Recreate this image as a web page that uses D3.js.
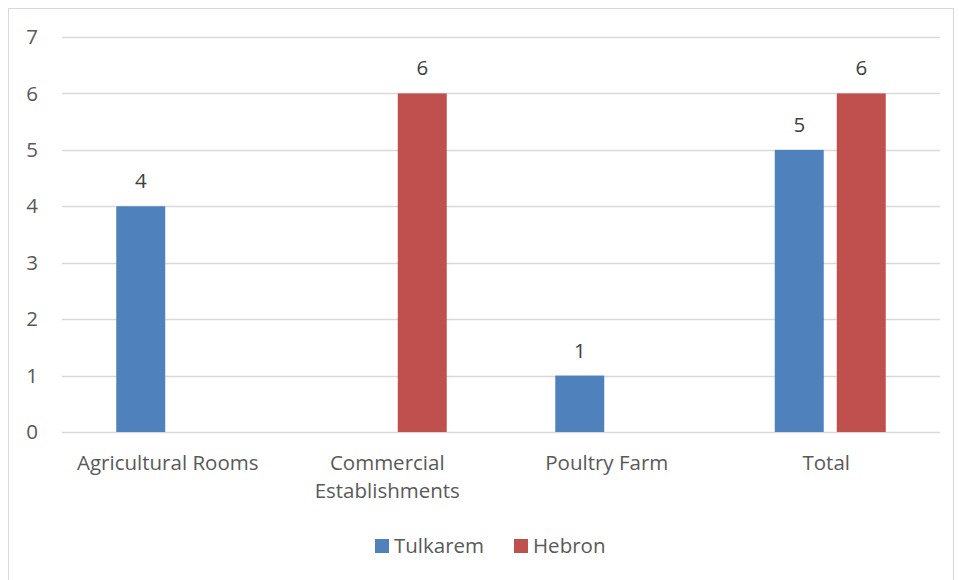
<!DOCTYPE html>
<html>
<head>
<meta charset="utf-8">
<script src="https://cdn.jsdelivr.net/npm/d3@7"></script>
<style>
  body { margin: 0; background: #fff; }
  text { font-family: "Open Sans", "Noto Sans", sans-serif; }
</style>
</head>
<body>
<script>
const categories = ["Agricultural Rooms", "Commercial Establishments", "Poultry Farm", "Total"];
const seriesNames = ["Tulkarem", "Hebron"];
const tulkarem = [4, null, 1, 5];
const hebron = [null, 6, null, 6];
const yTicks = [0, 1, 2, 3, 4, 5, 6, 7];
const colors = ["#4f81bd", "#c0504d"];

const width = 959, height = 580;
const margin = { left: 62, right: 19, top: 37, bottom: 148 };
const fontSize = 20.5;

const svg = d3.select("body").append("svg")
  .attr("width", width)
  .attr("height", height);

// chart border
svg.append("rect")
  .attr("x", 8.5).attr("y", 8.5)
  .attr("width", 945).attr("height", 580)
  .attr("fill", "#fff")
  .attr("stroke", "#d9d9d9");

const x = d3.scaleBand()
  .domain(categories)
  .range([margin.left, width - margin.right]);

const xInner = d3.scaleBand()
  .domain(seriesNames)
  .range([0, x.bandwidth()])
  .paddingInner(0.21)
  .paddingOuter(0.875);

const y = d3.scaleLinear()
  .domain([0, 7])
  .range([height - margin.bottom, margin.top]);

// gridlines
svg.append("g")
  .selectAll("line")
  .data(yTicks)
  .join("line")
    .attr("x1", margin.left)
    .attr("x2", width - margin.right)
    .attr("y1", d => Math.round(y(d)) + 0.5)
    .attr("y2", d => Math.round(y(d)) + 0.5)
    .attr("stroke", "#d9d9d9")
    .attr("stroke-width", 1.3);

// y tick labels
svg.append("g")
  .selectAll("text")
  .data(yTicks)
  .join("text")
    .attr("x", 38)
    .attr("y", d => y(d))
    .attr("dy", "0.35em")
    .attr("text-anchor", "end")
    .attr("font-size", fontSize)
    .attr("fill", "#595959")
    .text(d => d);

const rows = categories.map((c, i) => ({
  cat: c,
  values: [
    { key: seriesNames[0], v: tulkarem[i], color: colors[0] },
    { key: seriesNames[1], v: hebron[i], color: colors[1] },
  ]
}));

const groups = svg.append("g")
  .selectAll("g")
  .data(rows)
  .join("g")
    .attr("transform", d => `translate(${x(d.cat)},0)`);

groups.selectAll("rect")
  .data(d => d.values.filter(v => v.v != null))
  .join("rect")
    .attr("x", d => xInner(d.key))
    .attr("width", xInner.bandwidth())
    .attr("y", d => y(d.v))
    .attr("height", d => y(0) - y(d.v))
    .attr("fill", d => d.color);

// data labels
groups.selectAll("text")
  .data(d => d.values.filter(v => v.v != null))
  .join("text")
    .attr("x", d => xInner(d.key) + xInner.bandwidth() / 2)
    .attr("y", d => y(d.v) - 18)
    .attr("text-anchor", "middle")
    .attr("font-size", fontSize)
    .attr("fill", "#404040")
    .text(d => d.v);

// category labels (wrapped like the original)
const catLines = {
  "Agricultural Rooms": ["Agricultural Rooms"],
  "Commercial Establishments": ["Commercial", "Establishments"],
  "Poultry Farm": ["Poultry Farm"],
  "Total": ["Total"],
};
const xl = svg.append("g");
categories.forEach(c => {
  const cx = x(c) + x.bandwidth() / 2 - 4;
  const t = xl.append("text")
    .attr("x", cx)
    .attr("y", 470)
    .attr("text-anchor", "middle")
    .attr("font-size", fontSize)
    .attr("fill", "#595959");
  catLines[c].forEach((line, i) => {
    t.append("tspan")
      .attr("x", cx)
      .attr("dy", i === 0 ? 0 : 28)
      .text(line);
  });
});

// legend
const legendX = [375, 514];
const legend = svg.append("g");
seriesNames.forEach((s, i) => {
  legend.append("rect")
    .attr("x", legendX[i]).attr("y", 539)
    .attr("width", 14).attr("height", 14)
    .attr("fill", colors[i]);
  legend.append("text")
    .attr("x", legendX[i] + 19).attr("y", 546)
    .attr("dy", "0.35em")
    .attr("font-size", fontSize)
    .attr("fill", "#595959")
    .text(s);
});
</script>
</body>
</html>
